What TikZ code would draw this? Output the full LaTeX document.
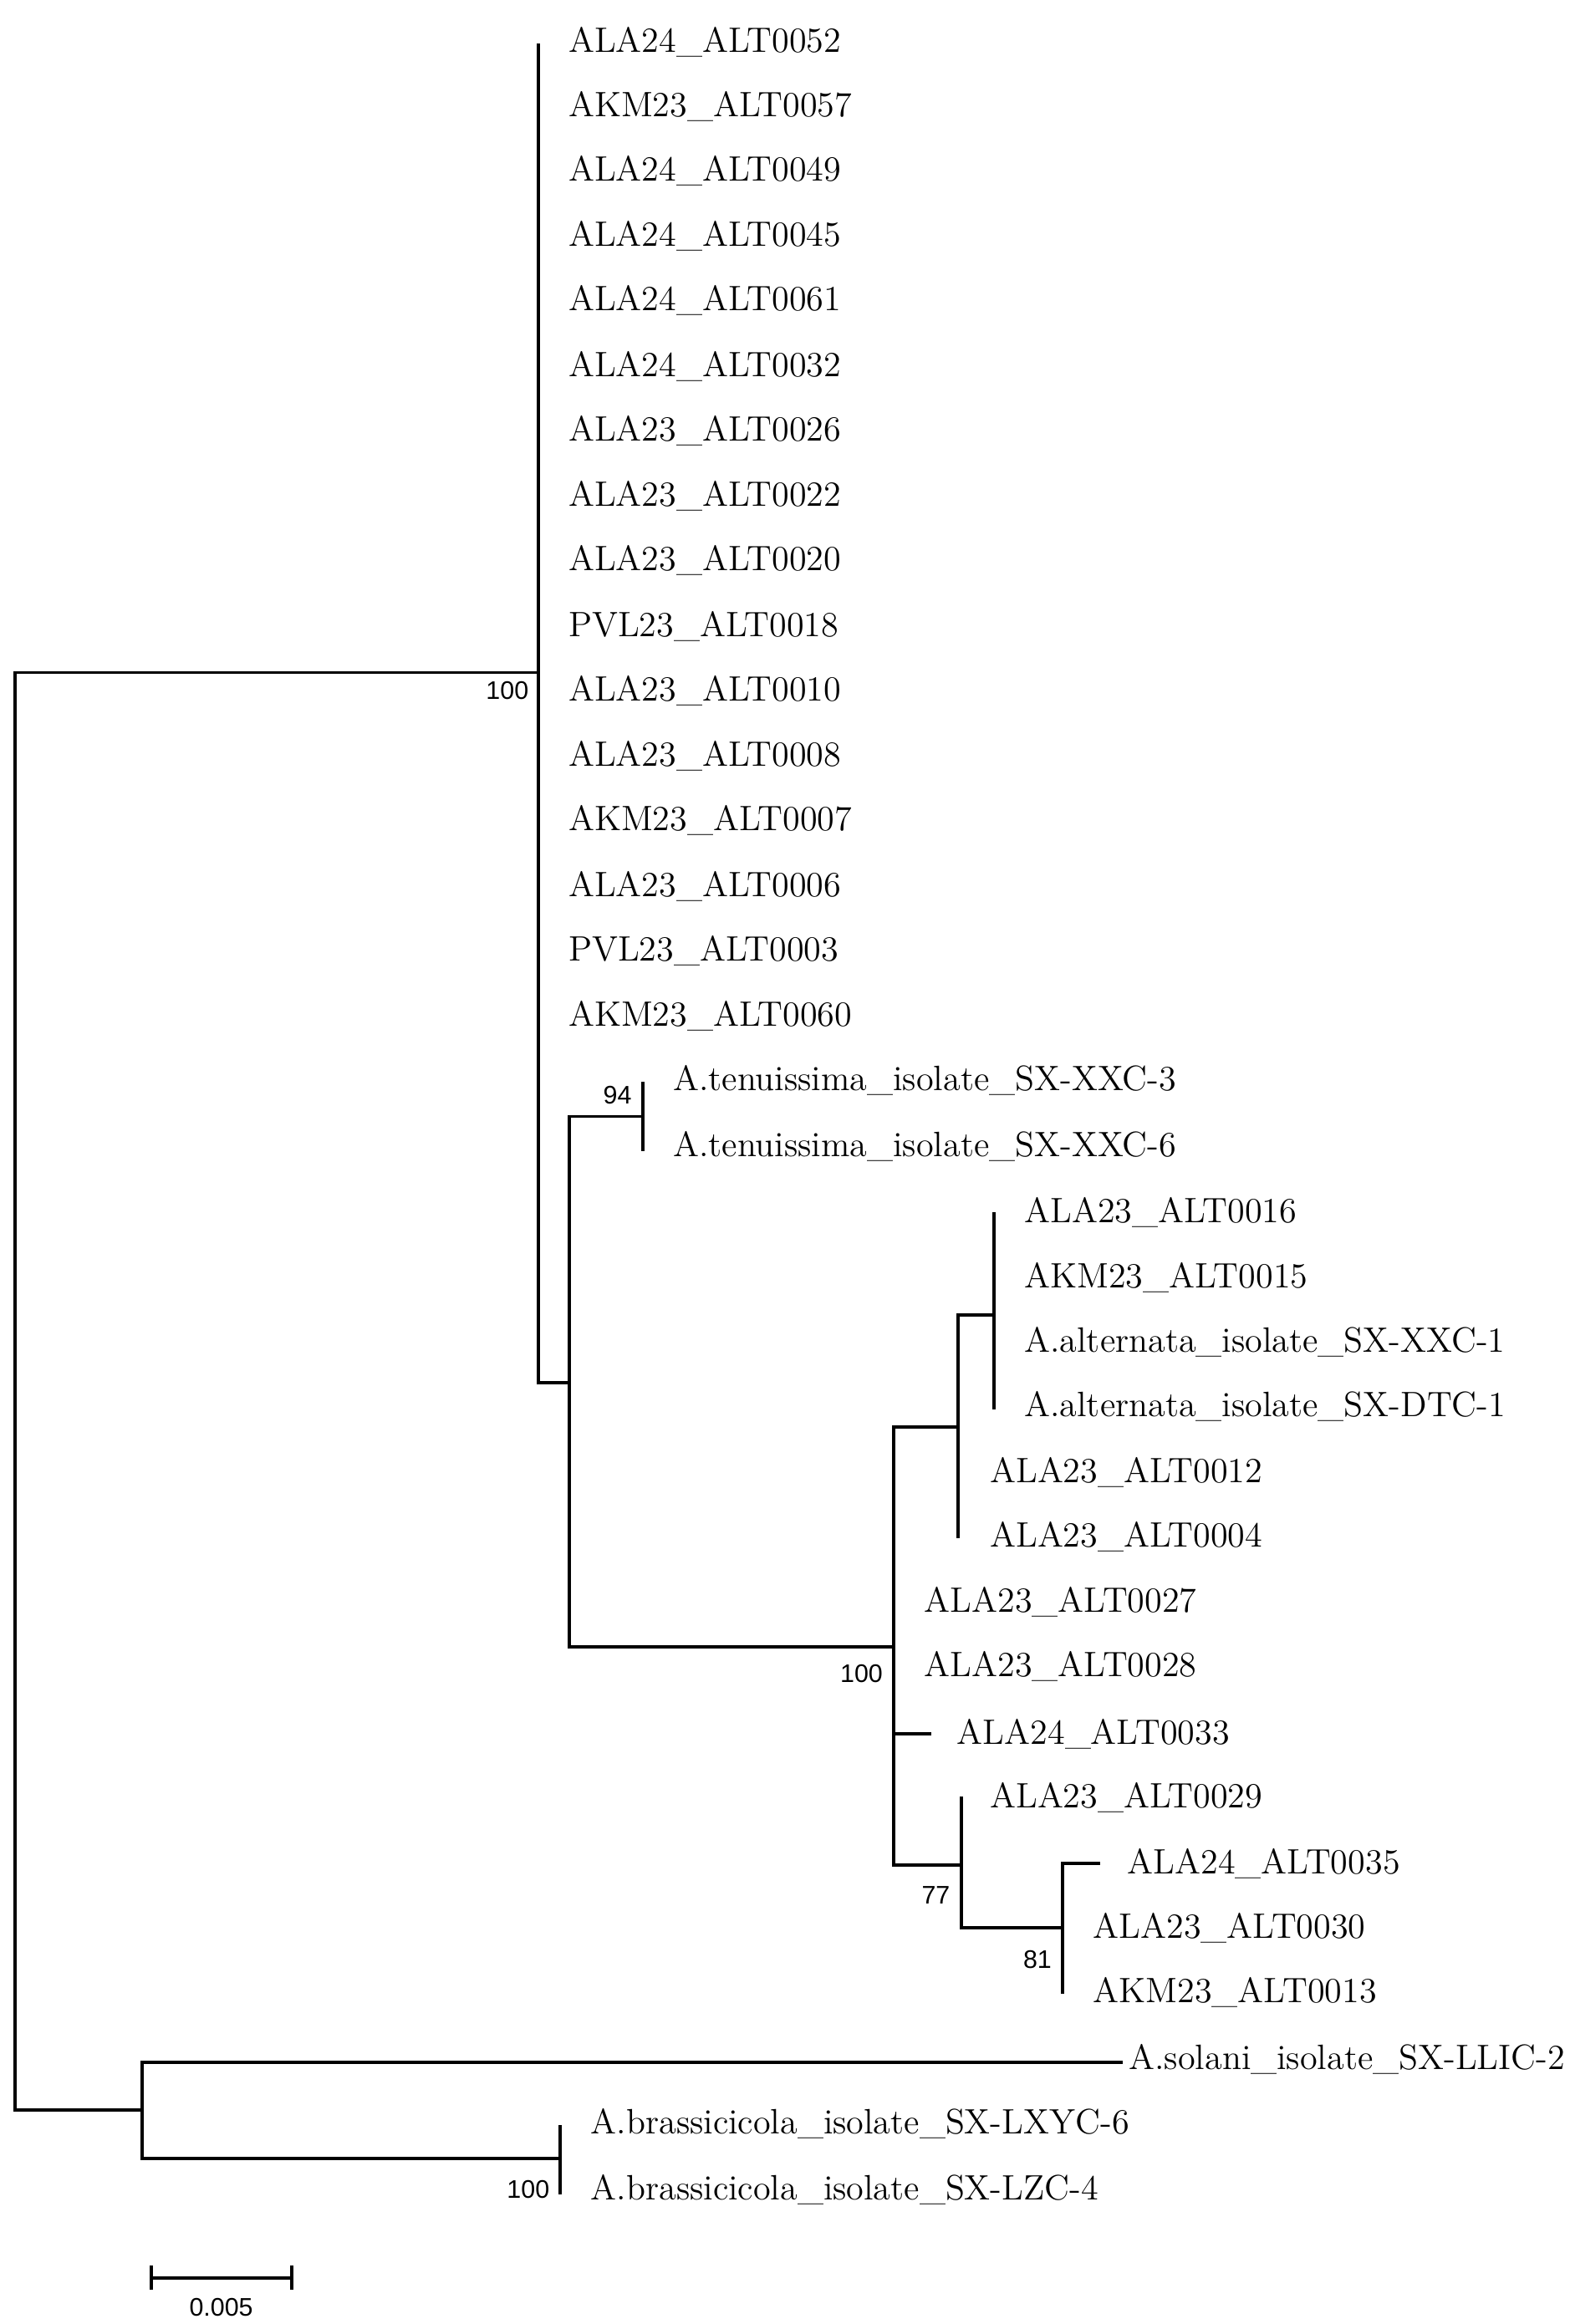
\documentclass[tikz,border=0pt]{standalone}
\usepackage{fontspec}
\newfontfamily\numfont{Liberation Sans}
\begin{document}
\begin{tikzpicture}[x=0.5pt,y=-0.5pt,
  br/.style={line width=1.1pt,line cap=rect},
  lab/.style={anchor=west,inner sep=0pt,font=\fontsize{11.8}{14}\selectfont},
  bs/.style={anchor=east,inner sep=0pt,font=\numfont\fontsize{8.5}{10}\selectfont}]
\useasboundingbox (0,0) rectangle (1050,1555);
\coordinate (r1) at (10,450); \coordinate (r2) at (10,1412);
\draw[br] (r1) -- (r2);
\draw[br] (r1) -- (360,450);
\draw[br] (360,30) -- (360,925);
\foreach \n/\y in {ALA24\_ALT0052/28,AKM23\_ALT0057/71,ALA24\_ALT0049/114,ALA24\_ALT0045/158,ALA24\_ALT0061/201,ALA24\_ALT0032/245,ALA23\_ALT0026/288,ALA23\_ALT0022/332,ALA23\_ALT0020/375,PVL23\_ALT0018/419,ALA23\_ALT0010/462,ALA23\_ALT0008/506,AKM23\_ALT0007/549,ALA23\_ALT0006/593,PVL23\_ALT0003/636,AKM23\_ALT0060/680}
  \node[lab] (t\y) at (380,\y) {\n};
\node[bs] (b1) at (354,462) {100};
\draw[br] (360,925) -- (381,925);
\draw[br] (381,747) -- (381,1102);
\draw[br] (381,747) -- (430,747);
\draw[br] (430,725) -- (430,769);
\node[lab] (ten3) at (450,723) {A.tenuissima\_isolate\_SX-XXC-3};
\node[lab] (ten6) at (450,767) {A.tenuissima\_isolate\_SX-XXC-6};
\node[bs] (b2) at (423,733) {94};
\draw[br] (381,1102) -- (598,1102);
\draw[br] (598,955) -- (598,1248);
\node[bs] (b3) at (591,1120) {100};
\draw[br] (598,955) -- (641,955);
\draw[br] (641,880) -- (641,1028);
\draw[br] (641,880) -- (665,880);
\draw[br] (665,812) -- (665,942);
\node[lab] (a16) at (685,811) {ALA23\_ALT0016};
\node[lab] (a15) at (685,855) {AKM23\_ALT0015};
\node[lab] (alt1) at (685,898) {A.alternata\_isolate\_SX-XXC-1};
\node[lab] (alt2) at (685,941) {A.alternata\_isolate\_SX-DTC-1};
\node[lab] (a12) at (662,985) {ALA23\_ALT0012};
\node[lab] (a04) at (662,1028) {ALA23\_ALT0004};
\node[lab] (a27) at (618,1072) {ALA23\_ALT0027};
\node[lab] (a28) at (618,1115) {ALA23\_ALT0028};
\draw[br] (598,1160) -- (622,1160);
\node[lab] (a33) at (640,1160) {ALA24\_ALT0033};
\draw[br] (598,1248) -- (643,1248);
\draw[br] (643,1203) -- (643,1290);
\node[lab] (a29) at (662,1203) {ALA23\_ALT0029};
\node[bs] (b4) at (636,1268) {77};
\draw[br] (643,1290) -- (711,1290);
\draw[br] (711,1247) -- (711,1333);
\draw[br] (711,1247) -- (735,1247);
\node[lab] (a35) at (754,1247) {ALA24\_ALT0035};
\node[lab] (a30) at (731,1290) {ALA23\_ALT0030};
\node[lab] (a13) at (731,1333) {AKM23\_ALT0013};
\node[bs] (b5) at (704,1311) {81};
\draw[br] (r2) -- (95,1412);
\draw[br] (95,1380) -- (95,1444);
\draw[br] (95,1380) -- (750,1380);
\node[lab] (sol) at (755,1378) {A.solani\_isolate\_SX-LLIC-2};
\draw[br] (95,1444) -- (375,1444);
\draw[br] (375,1423) -- (375,1467);
\node[lab] (br6) at (395,1421) {A.brassicicola\_isolate\_SX-LXYC-6};
\node[lab] (br4) at (395,1465) {A.brassicicola\_isolate\_SX-LZC-4};
\node[bs] (b6) at (368,1465) {100};
\draw[br] (101,1524) -- (195,1524);
\draw[br] (101,1517) -- (101,1531);
\draw[br] (195,1517) -- (195,1531);
\node[inner sep=0pt,font=\numfont\fontsize{8.5}{10}\selectfont] (sc) at (148,1544) {0.005};
\end{tikzpicture}
\end{document}
